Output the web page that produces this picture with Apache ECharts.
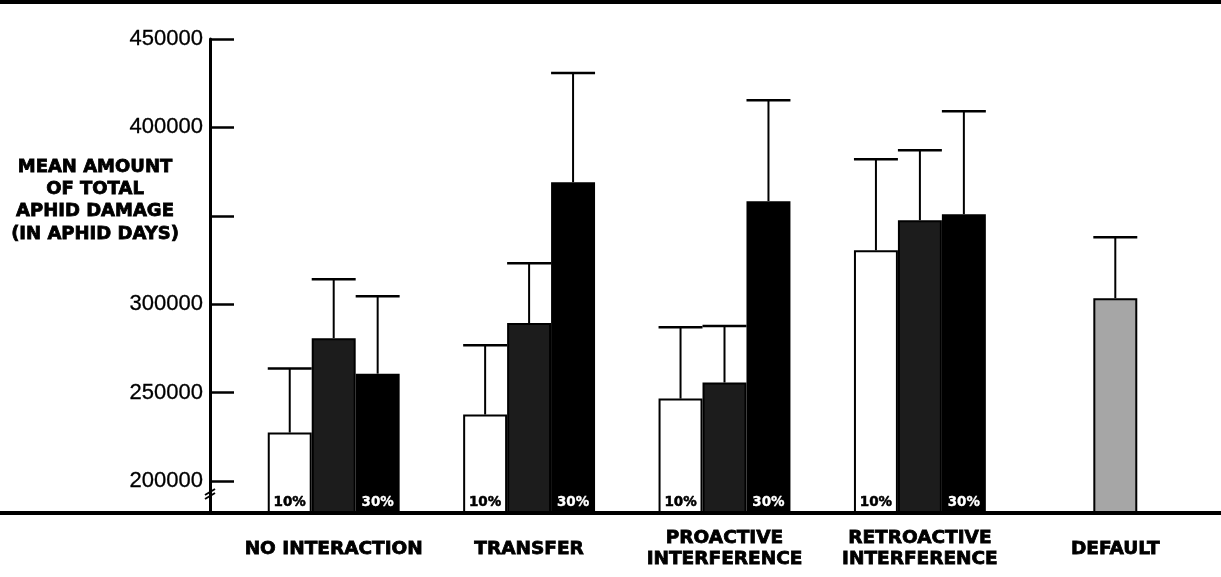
<!DOCTYPE html>
<html>
<head>
<meta charset="utf-8">
<script src="https://cdn.jsdelivr.net/npm/echarts@6/dist/echarts.min.js"></script>
<style>
  html, body { margin: 0; padding: 0; background: #fff; }
  #chart { width: 1221px; height: 577px; }
</style>
</head>
<body>
<div id="chart"></div>
<script>
  // categories
  var categories = ['NO INTERACTION', 'TRANSFER', 'PROACTIVE\nINTERFERENCE', 'RETROACTIVE\nINTERFERENCE', 'DEFAULT'];

  // means (aphid days) and upper end of the error bar
  var pct10 = [227400, 237600, 246600, 330500, null];
  var pct10Upper = [263600, 276800, 287000, 382000, null];
  var pct20 = [280800, 289300, 255700, 347500, null];
  var pct20Upper = [314100, 323200, 287600, 387100, null];
  var pct30 = [260700, 369000, 358300, 350900, null];
  var pct30Upper = [304500, 430700, 415400, 409200, null];
  var defaultMean = [null, null, null, null, 303400];
  var defaultUpper = [null, null, null, null, 337900];

  // y axis
  var yTicks = [200000, 250000, 300000, 350000, 400000, 450000];
  var yLabels = [200000, 250000, 300000, 400000, 450000];
  var yMin = 181900, yMax = 450000;

  var heavy = '"DejaVu Sans", sans-serif';
  var barFrac = 0.225;

  // middle slot carries the single default bar
  var midData = pct20.map(function (v, i) {
    if (defaultMean[i] != null) {
      return { value: defaultMean[i], itemStyle: { color: '#a6a6a6' } };
    }
    return v;
  });
  var midUpper = pct20Upper.map(function (v, i) {
    return defaultUpper[i] != null ? defaultUpper[i] : v;
  });

  function errData(means, uppers) {
    var out = [];
    for (var i = 0; i < means.length; i++) {
      var m = means[i];
      if (m != null && typeof m === 'object') m = m.value;
      if (m != null && uppers[i] != null) out.push([i, m, uppers[i]]);
    }
    return out;
  }

  function errRender(slot) {
    return function (params, api) {
      var band = api.size([1, 0])[0];
      var bw = band * barFrac;
      var base = api.coord([api.value(0), api.value(1)]);
      var top = api.coord([api.value(0), api.value(2)]);
      var cx = base[0] + slot * bw;
      return {
        type: 'group',
        children: [{
          type: 'line',
          shape: { x1: cx, y1: base[1], x2: cx, y2: top[1] },
          style: { stroke: '#000', lineWidth: 2 }
        }, {
          type: 'line',
          shape: { x1: cx - bw / 2, y1: top[1], x2: cx + bw / 2, y2: top[1] },
          style: { stroke: '#000', lineWidth: 2.5 }
        }]
      };
    };
  }

  var chart = echarts.init(document.getElementById('chart'));
  chart.setOption({
    backgroundColor: '#fff',
    animation: false,
    grid: { left: 236, right: 8, top: 39, bottom: 64, containLabel: false },
    xAxis: {
      type: 'category',
      data: categories,
      axisLine: { show: false },
      axisTick: { show: false },
      axisLabel: {
        interval: 0,
        margin: 36,
        verticalAlign: 'middle',
        color: '#000',
        fontFamily: heavy,
        fontWeight: 'bold',
        fontSize: 18.5,
        lineHeight: 21,
        textBorderColor: '#000',
        textBorderWidth: 0.8
      }
    },
    yAxis: {
      type: 'value',
      min: yMin,
      max: yMax,
      offset: 26,
      splitLine: { show: false },
      axisLine: { show: true, lineStyle: { color: '#000', width: 3 } },
      axisTick: {
        show: true,
        inside: true,
        length: 24,
        customValues: yTicks,
        lineStyle: { color: '#000', width: 2.5 }
      },
      axisLabel: {
        customValues: yLabels,
        margin: 7,
        color: '#000',
        fontFamily: '"Liberation Sans", Arial, sans-serif',
        fontSize: 22,
        textBorderColor: '#000',
        textBorderWidth: 0.3,
        formatter: function (v) { return String(v); }
      }
    },
    series: [{
      name: '10%',
      type: 'bar',
      data: pct10,
      barWidth: (barFrac * 100) + '%',
      barGap: '0%',
      itemStyle: { color: '#fff', borderColor: '#000', borderWidth: 2 },
      label: {
        show: true,
        position: 'insideBottom',
        distance: 5,
        formatter: '10%',
        color: '#000',
        fontFamily: heavy,
        fontWeight: 'bold',
        fontSize: 13.5,
        textBorderColor: '#000',
        textBorderWidth: 0.5
      }
    }, {
      name: '20%',
      type: 'bar',
      data: midData,
      barWidth: (barFrac * 100) + '%',
      barGap: '0%',
      itemStyle: { color: '#1c1c1c', borderColor: '#000', borderWidth: 2 }
    }, {
      name: '30%',
      type: 'bar',
      data: pct30,
      barWidth: (barFrac * 100) + '%',
      barGap: '0%',
      itemStyle: { color: '#000', borderColor: '#000', borderWidth: 2 },
      label: {
        show: true,
        position: 'insideBottom',
        distance: 5,
        formatter: '30%',
        color: '#fff',
        fontFamily: heavy,
        fontWeight: 'bold',
        fontSize: 13.5,
        textBorderColor: '#fff',
        textBorderWidth: 0.3
      }
    }, {
      type: 'custom',
      renderItem: errRender(-1),
      data: errData(pct10, pct10Upper),
      encode: { x: 0, y: [1, 2] },
      z: 3
    }, {
      type: 'custom',
      renderItem: errRender(0),
      data: errData(midData, midUpper),
      encode: { x: 0, y: [1, 2] },
      z: 3
    }, {
      type: 'custom',
      renderItem: errRender(1),
      data: errData(pct30, pct30Upper),
      encode: { x: 0, y: [1, 2] },
      z: 3
    }],
    graphic: [{
      type: 'rect',
      shape: { x: 0, y: 0, width: 1221, height: 4 },
      style: { fill: '#000' },
      z: 10
    }, {
      type: 'rect',
      shape: { x: 0, y: 511, width: 1221, height: 4 },
      style: { fill: '#000' },
      z: 10
    }, {
      type: 'polyline',
      shape: { points: [[205, 499], [215, 493]] },
      style: { stroke: '#000', lineWidth: 2 },
      z: 10
    }, {
      type: 'polyline',
      shape: { points: [[205, 495], [215, 489]] },
      style: { stroke: '#000', lineWidth: 2 },
      z: 10
    }, {
      type: 'text',
      x: 95,
      y: 156,
      style: {
        text: 'MEAN AMOUNT\nOF TOTAL\nAPHID DAMAGE\n(IN APHID DAYS)',
        align: 'center',
        fill: '#000',
        stroke: '#000',
        lineWidth: 0.8,
        fontFamily: heavy,
        fontWeight: 'bold',
        fontSize: 18,
        lineHeight: 22.3
      },
      z: 10
    }]
  });
</script>
</body>
</html>
